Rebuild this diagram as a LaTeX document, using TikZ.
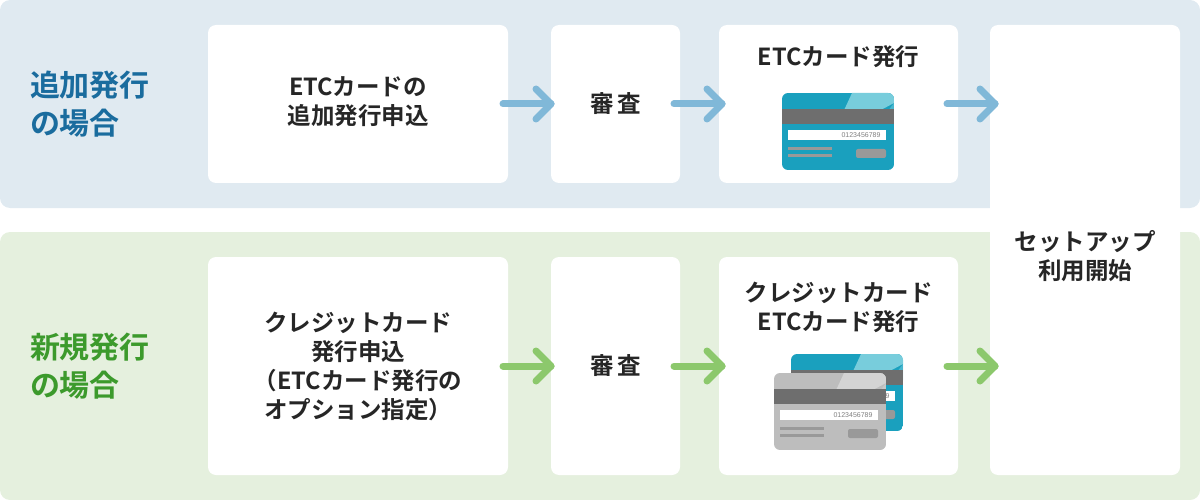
\documentclass[tikz,border=0pt]{standalone}
\usepackage{fontspec}
\setmainfont{Noto Sans CJK JP}[BoldFont={Noto Sans CJK JP Bold}]
\newfontfamily\numf{Liberation Sans}
\definecolor{bandb}{HTML}{E0EAF1}
\definecolor{bandg}{HTML}{E5F0DE}
\definecolor{tb}{HTML}{1A6C9E}
\definecolor{tg}{HTML}{3C9A2C}
\definecolor{ab}{HTML}{80B8D8}
\definecolor{ag}{HTML}{8CC86C}
\definecolor{cblue}{HTML}{1AA0BE}
\definecolor{cbluel}{HTML}{78CDDC}
\definecolor{cgrey}{HTML}{BDBDBD}
\definecolor{cgreyl}{HTML}{D4D4D4}
\definecolor{stripe}{HTML}{6E6E6E}
\begin{document}
\begin{tikzpicture}[x=1pt,y=-1pt,
  box/.style={fill=white,rounded corners=8pt,draw=none},
  txt/.style={font=\bfseries\fontsize{23.5}{29}\selectfont,align=center,text=black!85},
  ttl/.style={font=\bfseries\fontsize{30}{38}\selectfont,align=left},
  arr/.style={line width=7pt,line cap=round,line join=round}]
\useasboundingbox (0,0) rectangle (1200,500);
\fill[bandb,rounded corners=10pt] (0,0) rectangle (1200,208);
\fill[bandg,rounded corners=10pt] (0,232) rectangle (1200,500);
% boxes
\node[box,minimum width=300pt,minimum height=158pt] (b1) at (358,104) {};
\node[box,minimum width=129pt,minimum height=158pt] (b2) at (615.5,104) {};
\node[box,minimum width=239pt,minimum height=158pt] (b3) at (838.5,104) {};
\node[box,minimum width=190pt,minimum height=450pt] (b4) at (1085,250) {};
\node[box,minimum width=300pt,minimum height=218pt] (c1) at (358,366) {};
\node[box,minimum width=129pt,minimum height=218pt] (c2) at (615.5,366) {};
\node[box,minimum width=239pt,minimum height=218pt] (c3) at (838.5,366) {};
% texts
\node[ttl,text=tb] (t1) at (90,104) {追加発行\\の場合};
\node[ttl,text=tg] (t2) at (90,366) {新規発行\\の場合};
\node[txt] (x1) at (358,102) {ETCカードの\\追加発行申込};
\node[txt] (x2) at (615.5,104) {審\,査};
\node[txt] (x3) at (838.5,57) {ETCカード発行};
\node[txt] (x4) at (1085,256) {セットアップ\\利用開始};
\node[txt] (y1) at (358,366) {クレジットカード\\発行申込\\（ETCカード発行の\\オプション指定）};
\node[txt] (y2) at (615.5,366) {審\,査};
\node[txt] (y3) at (838.5,307) {クレジットカード\\ETCカード発行};
% arrows
\foreach \c/\y in {ab/104, ag/366}{
 \foreach \x in {503,674,947}{
  \draw[arr,\c] (\x,\y) -- (\x+48,\y);
  \draw[arr,\c] (\x+33,\y-15) -- (\x+48,\y) -- (\x+33,\y+15);
 }}
% card macro
\newcommand\mycard[4]{% x,y,body,light
 \begin{scope}[shift={(#1,#2)}]
  \begin{scope}
   \clip[rounded corners=6pt] (0,0) rectangle (112,77);
   \fill[#3] (0,0) rectangle (112,77);
   \fill[#4] (70,0) -- (112,0) -- (112,10) -- (82,26) -- (58,26) -- cycle;
   \fill[#4,opacity=.5] (100,26) -- (112,26) -- (112,10) -- cycle;
   \fill[stripe] (0,16) rectangle (112,31);
   \fill[white] (6,37) rectangle (104,47);
   \node[font=\numf\fontsize{7}{8}\selectfont,text=black!50,anchor=east] at (102,42) {0123456789};
   \fill[black!40] (6,54) rectangle (50,57);
   \fill[black!40] (6,61) rectangle (50,64);
   \fill[black!40,rounded corners=2pt] (74,56) rectangle (104,65);
  \end{scope}
 \end{scope}}
\mycard{782}{93}{cblue}{cbluel}
\mycard{791}{354}{cblue}{cbluel}
\mycard{774}{373}{cgrey}{cgreyl}
\end{tikzpicture}
\end{document}
